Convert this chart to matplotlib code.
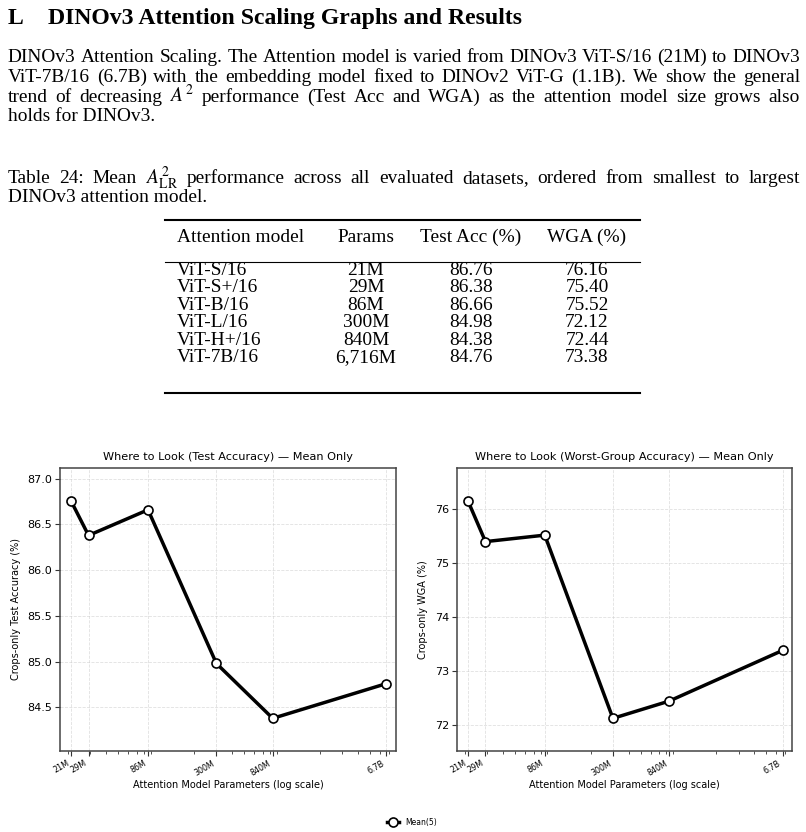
import matplotlib
matplotlib.use("Agg")
import matplotlib.pyplot as plt
from matplotlib.lines import Line2D
from matplotlib.ticker import FixedLocator, NullFormatter, LogLocator

# ---------------- data ----------------
models = ["ViT-S/16", "ViT-S+/16", "ViT-B/16", "ViT-L/16", "ViT-H+/16", "ViT-7B/16"]
params_label = ["21M", "29M", "86M", "300M", "840M", "6,716M"]
params_m = [21, 29, 86, 300, 840, 6716]
test_acc = [86.76, 86.38, 86.66, 84.98, 84.38, 84.76]
wga = [76.16, 75.40, 75.52, 72.12, 72.44, 73.38]
xtick_labels = ["21M", "29M", "86M", "300M", "840M", "6.7B"]
acc_ticks = [84.5, 85.0, 85.5, 86.0, 86.5, 87.0]
wga_ticks = [72, 73, 74, 75, 76]

W, H = 806, 832
plt.rcParams["mathtext.fontset"] = "stix"
fig = plt.figure(figsize=(W / 100, H / 100), dpi=100)
renderer = fig.canvas.get_renderer()
SERIF = ["Liberation Serif", "DejaVu Serif"]


def fx(x):
    return x / W


def fy(y):
    return 1 - y / H


def width_of(s, size, weight="normal"):
    t = fig.text(0, 0, s, fontsize=size, family=SERIF, weight=weight)
    w = t.get_window_extent(renderer).width
    t.remove()
    return w


def justify(words, x0, x1, yb, size):
    ts = [fig.text(0, 0, w, fontsize=size, family=SERIF, va="baseline") for w in words]
    ws = [t.get_window_extent(renderer).width for t in ts]
    gap = (x1 - x0 - sum(ws)) / (len(words) - 1)
    x = x0
    for t, w in zip(ts, ws):
        t.set_position((fx(x), fy(yb)))
        x += w + gap


# ---------------- heading ----------------
hs = 15 * 475 / width_of("DINOv3 Attention Scaling Graphs and Results", 15, "bold")
fig.text(fx(8), fy(24), "L", fontsize=hs, family=SERIF, weight="bold", va="baseline")
fig.text(fx(48), fy(24), "DINOv3 Attention Scaling Graphs and Results",
         fontsize=hs, family=SERIF, weight="bold", va="baseline")

# ---------------- paragraph ----------------
L, R = 8, 800
para = [
    "DINOv3 Attention Scaling. The Attention model is varied from DINOv3 ViT-S/16 (21M) to DINOv3",
    "ViT-7B/16 (6.7B) with the embedding model fixed to DINOv2 ViT-G (1.1B). We show the general",
    "trend of decreasing $A^2$ performance (Test Acc and WGA) as the attention model size grows also",
]
caption1 = "Table 24: Mean $A^2_{\\mathrm{LR}}$ performance across all evaluated datasets, ordered from smallest to largest"
natural = max(width_of(s, 12) for s in para + [caption1])
bs = 12 * (R - L) * 0.99 / natural

for i, line in enumerate(para):
    justify(line.split(" "), L, R, 61.7 + 20 * i, bs)
fig.text(fx(L), fy(121), "holds for DINOv3.", fontsize=bs, family=SERIF, va="baseline")

# ---------------- caption ----------------
justify(caption1.split(" "), L, R, 183.3, bs)
fig.text(fx(L), fy(202.3), "DINOv3 attention model.", fontsize=bs, family=SERIF, va="baseline")

# ---------------- table ----------------
tx0, tx1 = 165, 640
fig.add_artist(Line2D([fx(tx0), fx(tx1)], [fy(220), fy(220)], lw=1.5, color="black"))
fig.add_artist(Line2D([fx(tx0), fx(tx1)], [fy(261.7), fy(261.7)], lw=0.8, color="black"))
fig.add_artist(Line2D([fx(tx0), fx(tx1)], [fy(393.3), fy(393.3)], lw=1.5, color="black"))
col_c = [366, 471, 587]
fig.text(fx(177), fy(242.3), "Attention model", fontsize=bs, family=SERIF, va="baseline")
for c, h in zip(col_c, ["Params", "Test Acc (%)", "WGA (%)"]):
    fig.text(fx(c), fy(242.3), h, fontsize=bs, family=SERIF, va="baseline", ha="center")
for i in range(len(models)):
    yb = 275 + 17.45 * i
    fig.text(fx(177), fy(yb), models[i], fontsize=bs, family=SERIF, va="baseline")
    vals = [params_label[i], f"{test_acc[i]:.2f}", f"{wga[i]:.2f}"]
    for c, v in zip(col_c, vals):
        fig.text(fx(c), fy(yb), v, fontsize=bs, family=SERIF, va="baseline", ha="center")

# ---------------- charts ----------------
SANS = "DejaVu Sans"
ax_top, ax_bot = 468, 751
axes_px = [(60, 396), (457, 792)]
specs = [
    (test_acc, acc_ticks, "{:.1f}", "Crops-only Test Accuracy (%)",
     "Where to Look (Test Accuracy) \u2014 Mean Only"),
    (wga, wga_ticks, "{:.0f}", "Crops-only WGA (%)",
     "Where to Look (Worst-Group Accuracy) \u2014 Mean Only"),
]
params = [p * 1e6 for p in params_m]
line_handle = None
for (l, r), (vals, yt, fmt, ylab, title) in zip(axes_px, specs):
    ax = fig.add_axes([fx(l), fy(ax_bot), (r - l) / W, (ax_bot - ax_top) / H])
    ln, = ax.plot(params, vals, color="black", lw=2.5, marker="o", ms=6.5,
                  mfc="white", mec="black", mew=1.2, zorder=3, label="Mean(5)")
    line_handle = ln
    ax.set_xscale("log")
    ax.set_xlim(params[0] / 1.22, params[-1] * 1.19)
    rng = max(vals) - min(vals)
    ax.set_ylim(min(vals) - 0.15 * rng, max(vals) + 0.15 * rng)
    ax.xaxis.set_major_locator(FixedLocator(params))
    ax.set_xticklabels(xtick_labels, rotation=30, ha="right", fontsize=5.8, family=SANS)
    ax.xaxis.set_minor_locator(LogLocator(base=10, subs=range(2, 10), numticks=20))
    ax.xaxis.set_minor_formatter(NullFormatter())
    ax.set_yticks(yt)
    ax.set_yticklabels([fmt.format(v) for v in yt], fontsize=8, family=SANS)
    ax.tick_params(axis="both", which="major", length=3.5, width=0.8, color="#333333", pad=2)
    ax.tick_params(axis="x", which="minor", length=2, width=0.6, color="#333333")
    ax.grid(True, which="major", ls="--", lw=0.6, color="#cccccc", alpha=0.6)
    for s in ax.spines.values():
        s.set_color("#444444")
        s.set_linewidth(1.1)
    ax.set_xlabel("Attention Model Parameters (log scale)", fontsize=7, family=SANS, labelpad=2)
    ax.set_ylabel(ylab, fontsize=7, family=SANS, labelpad=5)
    ax.set_title(title, fontsize=8.1, family=SANS, pad=6)

fig.legend(handles=[line_handle], labels=["Mean(5)"], loc="center",
           bbox_to_anchor=(fx(412), fy(822.5)), frameon=False,
           handlelength=1.6, prop={"family": SANS, "size": 5.5})

fig.savefig("out.png", dpi=100)
